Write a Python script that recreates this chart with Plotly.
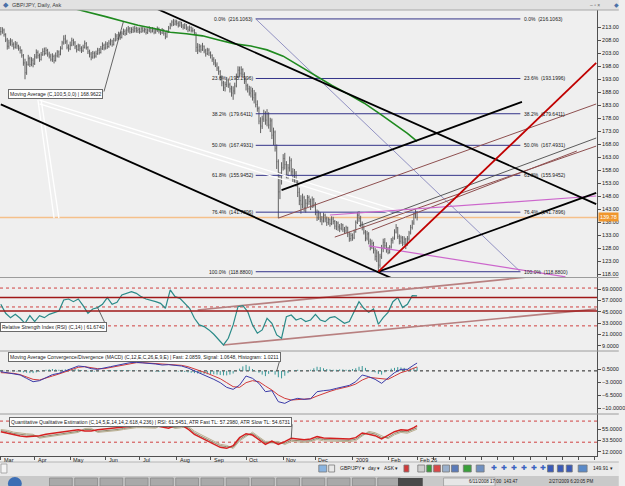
import pandas as pd
import plotly.graph_objects as go

# ============================ DATA ============================
first_bar = "2008-03-03"          # first daily bar (GBP/JPY, Ask)

closes = [
    # Mar 2008
    211.2, 211.8, 210.1, 208.0, 205.6, 206.9, 207.6, 206.3, 205.2, 206.4, 205.7, 204.8, 204.0, 202.1, 199.2, 195.4, 198.6, 200.8, 198.6, 200.2, 198.9,
    # Apr
    201.5, 203.2, 202.0, 200.5, 202.3, 203.6, 202.8, 204.0, 202.6, 201.8, 200.6, 201.7, 200.1, 201.9, 203.4, 202.5, 204.8, 206.9, 208.4, 207.3, 205.2, 204.6,
    # May
    206.0, 207.8, 206.9, 205.4, 204.3, 205.7, 204.8, 203.9, 205.2, 206.6, 205.1, 203.5, 202.6, 201.4, 202.9, 201.8, 202.7, 204.1, 203.2, 204.6, 205.9, 204.9,
    # Jun
    206.4, 205.5, 206.8, 207.6, 206.2, 207.9, 209.5, 208.6, 210.2, 209.0, 210.6, 211.3, 210.4, 211.8, 212.3, 211.2, 212.0, 211.5, 212.4, 211.6, 212.1,
    # Jul
    211.2, 212.3, 211.6, 212.0, 210.9, 211.8, 212.5, 211.4, 212.2, 211.0, 211.7, 212.4, 211.3, 210.8, 211.9, 210.6, 209.2, 211.0, 212.6, 213.8, 214.9, 214.1, 215.0,
    # Aug
    214.4, 213.7, 214.6, 213.4, 212.9, 213.8, 212.6, 211.9, 212.8, 211.7, 211.6, 210.8, 205.2, 204.1, 205.4, 204.2, 205.6, 203.8, 202.7, 204.1, 203.0,
    # Sep
    202.1, 200.6, 199.2, 198.4, 197.2, 195.8, 193.6, 191.5, 189.6, 190.9, 192.6, 190.8, 189.2, 187.6, 188.4, 190.3, 193.8, 196.4, 195.2, 196.6, 194.8, 192.2,
    # Oct
    190.4, 189.2, 187.6, 188.4, 185.8, 186.9, 183.2, 181.6, 176.8, 174.9, 177.6, 179.8, 177.2, 179.6, 175.3, 176.9, 171.4, 172.6, 166.4, 161.2, 149.6, 154.3, 158.9,
    # Nov
    162.4, 160.1, 156.2, 158.8, 161.6, 157.3, 154.6, 156.8, 153.2, 149.4, 146.2, 144.8, 147.3, 143.6, 145.2, 147.4, 145.9, 144.1, 146.6, 144.7,
    # Dec
    141.8, 139.6, 141.2, 139.1, 138.4, 140.6, 139.2, 137.8, 138.9, 137.4, 139.1, 138.2, 136.4, 137.6, 136.1, 135.6, 136.9, 135.2, 134.6, 135.8, 133.4, 131.6, 132.8,
    # Jan 2009
    131.9, 134.2, 137.8, 140.6, 139.4, 137.2, 135.9, 134.1, 131.8, 133.4, 130.6, 128.4, 129.8, 127.2, 124.8, 126.1, 121.4, 124.6, 127.8, 130.2, 128.9, 127.4,
    # Feb
    126.2, 128.4, 130.9, 131.6, 134.1, 135.8, 132.4, 130.6, 131.9, 130.2, 131.4, 129.8, 131.5, 133.8, 135.9, 137.6, 140.8, 141.9, 139.8,
]

highs = [
    213.0, 212.9, 212.4, 210.6, 208.8, 208.1, 208.7, 208.3, 207.1, 207.6, 207.3, 206.2, 205.6, 204.4, 202.6, 200.8, 199.8, 202.3, 201.6, 201.4, 201.0,
    202.6, 204.4, 204.0, 202.8, 203.4, 204.8, 205.1, 205.2, 204.6, 203.5, 202.7, 202.9, 202.4, 203.2, 204.1, 204.0, 205.6, 207.7, 209.8, 210.0, 208.1, 206.3,
    207.4, 208.9, 208.5, 207.6, 206.1, 206.6, 206.4, 205.6, 206.2, 207.8, 207.2, 205.6, 204.3, 203.4, 203.8, 203.6, 203.9, 205.0, 204.9, 205.7, 207.1, 206.6,
    207.5, 207.2, 207.9, 208.5, 208.1, 208.8, 210.6, 210.3, 211.2, 211.0, 211.4, 212.4, 212.1, 212.9, 213.4, 213.0, 212.9, 213.2, 213.5, 213.1, 212.9,
    212.8, 213.1, 213.0, 212.8, 212.6, 212.5, 213.3, 212.9, 213.0, 212.7, 212.4, 213.2, 212.8, 212.0, 212.6, 212.2, 211.0, 211.8, 213.4, 214.6, 215.6, 216.1, 215.9,
    215.8, 215.2, 215.4, 215.0, 214.2, 214.5, 214.1, 213.3, 213.6, 213.2, 212.8, 212.2, 210.9, 206.8, 206.5, 206.2, 206.9, 205.9, 204.6, 205.0, 204.8,
    203.6, 202.5, 201.4, 200.6, 199.4, 197.9, 196.4, 194.4, 192.3, 192.0, 193.8, 193.2, 191.6, 190.4, 190.2, 191.6, 195.1, 197.9, 197.8, 197.9, 197.1, 195.6,
    193.1, 191.2, 190.4, 190.1, 189.6, 188.8, 187.9, 184.8, 182.4, 178.3, 178.9, 181.2, 180.6, 181.4, 180.2, 178.1, 177.8, 174.3, 173.2, 167.8, 162.1, 157.2, 161.0,
    164.1, 164.6, 161.4, 160.3, 163.2, 162.5, 158.7, 158.4, 157.6, 154.1, 151.2, 148.3, 148.9, 148.1, 146.8, 148.4, 148.2, 147.0, 147.8, 147.2,
    145.6, 142.8, 142.4, 141.8, 140.3, 141.6, 141.2, 140.1, 139.8, 139.4, 140.2, 140.0, 138.8, 138.4, 138.2, 137.2, 137.6, 137.3, 136.1, 136.6, 136.2, 134.3, 133.9,
    133.6, 135.1, 138.6, 141.9, 142.2, 140.4, 138.2, 136.7, 134.9, 134.6, 134.1, 131.6, 131.2, 130.4, 128.1, 127.4, 126.8, 125.8, 129.2, 131.6, 131.8, 130.2,
    128.4, 129.1, 131.8, 132.4, 135.2, 137.2, 136.1, 133.2, 132.8, 132.6, 132.5, 131.9, 132.6, 134.6, 136.9, 138.7, 141.6, 142.8, 142.2,
]

lows = [
    209.8, 210.4, 209.3, 207.2, 204.3, 204.6, 205.8, 205.4, 204.3, 204.7, 204.6, 203.9, 202.8, 201.2, 198.1, 192.9, 194.6, 198.1, 197.6, 197.9, 197.5,
    198.4, 200.8, 200.9, 199.6, 200.1, 201.9, 202.0, 202.4, 201.6, 200.9, 199.8, 199.6, 199.0, 199.7, 201.3, 201.2, 202.1, 204.3, 206.2, 206.5, 204.4, 203.5,
    204.1, 205.6, 205.8, 204.5, 203.2, 203.8, 203.6, 203.0, 203.4, 204.7, 204.3, 202.6, 201.3, 200.2, 200.8, 200.9, 201.2, 202.3, 202.4, 202.8, 204.2, 204.0,
    204.3, 204.6, 205.0, 205.9, 205.4, 205.9, 207.4, 207.7, 208.1, 208.1, 208.6, 209.9, 209.6, 209.9, 210.8, 210.4, 210.6, 210.7, 210.9, 210.8, 210.7,
    210.4, 210.7, 210.9, 210.8, 210.1, 210.3, 211.0, 210.6, 210.9, 210.2, 210.4, 211.1, 210.5, 209.9, 210.3, 209.7, 208.3, 208.9, 210.7, 212.1, 213.2, 213.4, 213.6,
    213.5, 212.8, 213.1, 212.6, 212.0, 212.2, 211.8, 211.0, 211.3, 210.9, 210.9, 209.9, 203.4, 202.6, 203.3, 203.1, 203.8, 202.9, 201.6, 202.2, 201.9,
    200.9, 199.6, 198.3, 197.6, 196.1, 194.6, 192.4, 190.2, 188.4, 188.2, 189.9, 189.6, 187.8, 186.2, 185.0, 187.1, 189.8, 193.4, 193.6, 194.2, 193.5, 191.1,
    188.6, 187.8, 186.6, 185.9, 184.7, 183.6, 182.1, 180.4, 175.6, 172.2, 173.8, 176.5, 175.4, 174.8, 173.9, 172.6, 169.9, 167.6, 165.1, 158.4, 139.5, 146.8, 152.4,
    157.8, 158.2, 154.8, 154.6, 157.4, 155.9, 153.1, 152.8, 151.6, 147.6, 144.5, 141.2, 143.2, 142.0, 141.6, 143.8, 144.6, 142.6, 143.4, 143.6,
    140.6, 138.4, 138.8, 137.9, 136.8, 137.8, 137.9, 136.5, 136.9, 136.2, 136.8, 137.1, 135.2, 134.9, 134.6, 134.1, 134.8, 134.2, 133.4, 133.7, 132.2, 130.4, 130.6,
    130.8, 131.4, 133.9, 137.2, 138.1, 136.1, 134.8, 133.2, 130.6, 130.9, 129.4, 127.1, 127.6, 125.9, 123.2, 122.6, 118.9, 120.4, 123.8, 126.4, 127.6, 126.2,
    125.6, 125.9, 127.8, 129.7, 131.2, 133.6, 131.5, 129.4, 129.6, 128.7, 129.1, 127.6, 128.9, 130.8, 133.2, 135.1, 136.9, 139.4, 138.6,
]

# Moving Average (C,100) sampled at bar positions
ma_pos = [47, 55, 65, 75, 85, 95, 105, 115, 125, 135, 145, 155, 165, 175, 185, 195, 205, 215, 225, 235, 245, 252, 258]
ma_vals = [219.8, 218.6, 217.0, 215.3, 213.7, 212.4, 211.0, 210.4, 209.6, 208.0, 206.5, 205.7, 204.2,
           201.8, 198.1, 194.2, 190.6, 187.3, 183.8, 179.6, 175.2, 172.1, 169.0]

# RSI(14), every 3rd bar
rsi_step = 3
rsi_vals = [52.8, 43.3, 38.7, 42.2, 38.0, 32.7, 40.8, 34.5, 40.8, 38.7, 42.2, 44.3, 45.7, 57.4, 58.4, 55.6,
            58.4, 51.4, 43.3, 47.9, 49.3, 52.8, 59.9, 52.8, 54.9, 62.7, 64.4, 66.2, 64.4, 60.9, 58.4, 57.4,
            55.6, 53.8, 48.6, 68.0, 60.9, 59.1, 53.8, 48.6, 38.0, 31.0, 29.2, 25.7, 21.1, 15.1, 9.8, 16.9,
            31.0, 50.3, 51.4, 45.1, 31.0, 22.2, 25.7, 38.0, 32.7, 20.4, 16.9, 39.8, 41.5, 36.2, 38.0, 34.5,
            36.2, 42.2, 36.2, 34.5, 38.7, 39.8, 36.2, 32.7, 34.5, 45.1, 55.6, 48.6, 44.3, 47.9, 31.7, 38.7,
            44.3, 55.6, 59.9, 49.3, 52.8, 62.0, 61.7]

# MACD histogram, every 2nd bar
hist_step = 2
macd_hist = [0.2, 0.1, 0.0, -0.1, -0.1, -0.2, -0.3, -0.4, -0.5, -0.6,
             -0.6, -0.4, -0.2, 0.1, 0.3, 0.4, 0.5, 0.4, 0.3, 0.3,
             0.4, 0.5, 0.5, 0.5, 0.4, 0.2, 0.0, -0.2, -0.3, -0.2,
             -0.1, 0.0, 0.1, 0.2, 0.2, 0.2, 0.2, 0.2, 0.2, 0.2,
             0.2, 0.1, 0.1, 0.0, 0.0, -0.1, -0.1, -0.1, -0.2, -0.3,
             -0.2, -0.1, 0.0, 0.0, -0.1, -0.2, -0.2, -0.3, -0.4, -0.5,
             -0.6, -0.7, -0.7, -0.8, -0.9, -0.9, -0.9, -1.0, -1.1, -1.2,
             -1.2, -1.0, -0.7, -0.1, 0.6, 1.2, 1.6, 1.2, 0.5, -0.2,
             -0.5, -1.0, -1.4, -0.8, -0.3, -1.0, -1.7, -2.0, -1.3, -0.6,
             0.0, 0.2, 0.3, 0.1, 0.0, 0.1, 0.3, 0.7, 1.1, 1.0,
             0.7, 0.5, 0.4, 0.3, 0.3, 0.4, 0.4, 0.3, 0.3, 0.5,
             0.7, 1.1, 1.3, 0.8, 0.2, -0.2, -0.4, -0.8, -1.0, -0.4,
             0.2, 0.6, 0.8, 1.0, 0.9, 0.8, 0.5, 0.6, 0.8, 1.0]

# MACD lines and QQE, every 4th bar plus the last bar
line_step = 4
macd_fast = [-0.21, -0.48, -0.66, -1.10, -2.00, -2.89, -2.62, -1.73, -1.00, -0.66, 0.05, 0.68, 1.30, 1.12,
             0.59, 0.41, 0.68, 1.12, 1.48, 1.84, 2.19, 2.28, 2.19, 2.02, 1.84, 1.57, 1.66, 1.48, 1.30, 0.77,
             0.05, -0.66, -1.55, -2.26, -3.15, -4.40, -4.94, -3.78, -1.37, -2.00, -3.33, -5.56, -5.29, -8.23,
             -8.68, -7.79, -7.34, -7.61, -7.43, -5.56, -5.29, -5.11, -4.67, -4.22, -3.87, -2.89, -1.10, -1.55,
             -2.26, -3.33, -2.00, -0.48, 0.41, 0.41, 1.57, 2.09]
macd_signal = [-0.48, -0.48, -0.66, -1.00, -1.55, -2.26, -2.44, -2.00, -1.37, -0.84, -0.30, 0.23, 0.95, 1.12,
               0.86, 0.59, 0.59, 0.95, 1.30, 1.66, 2.02, 2.19, 2.19, 2.10, 2.02, 1.84, 1.66, 1.57, 1.48, 1.12,
               0.59, 0.05, -0.66, -1.37, -2.09, -3.15, -4.22, -4.40, -3.15, -2.62, -2.89, -4.05, -5.11, -6.45,
               -7.34, -7.79, -7.61, -7.61, -7.43, -6.72, -6.00, -5.47, -4.94, -4.58, -4.13, -3.51, -2.44, -1.73,
               -1.91, -2.26, -2.26, -1.37, -0.48, 0.05, 0.77, 1.06]
qqe_rsi = [49.9, 47.4, 43.6, 41.8, 40.5, 41.1, 42.4, 44.9, 46.8, 48.0, 49.9, 52.4, 53.7, 51.2, 51.2, 53.7,
           55.0, 56.3, 57.5, 59.4, 61.3, 62.6, 62.6, 62.0, 61.3, 58.8, 56.3, 61.3, 62.6, 55.0, 44.9, 38.6,
           32.3, 26.0, 20.3, 18.4, 23.4, 38.6, 46.1, 43.6, 34.2, 26.0, 32.3, 26.0, 31.0, 37.3, 36.1, 34.8,
           36.1, 40.5, 37.9, 37.3, 37.3, 36.7, 36.1, 38.6, 47.4, 44.9, 42.4, 36.1, 42.4, 49.9, 53.7, 52.4,
           57.5, 61.5]
qqe_fast = [52, 50, 46.5, 44.5, 43.5, 43, 39.5, 41.5, 43.5, 45, 46.5, 49, 50.5, 54, 54, 50.5, 51.5, 53, 54, 56,
            58, 59.5, 59.5, 59, 58.5, 61.5, 59, 58, 59.5, 58, 48, 41.5, 35.5, 29, 23.5, 21.5, 20.5, 35, 43, 46.5,
            37.5, 29, 29, 29, 28, 34, 33, 32, 33, 37.5, 35, 34.5, 34.5, 34, 33.5, 35.5, 44, 48, 45.5, 39,
            39, 46.5, 50.5, 49.5, 54.5, 57.3]
qqe_slow = [54, 52.5, 49, 47, 46, 45, 37.5, 39.5, 41.5, 43, 44.5, 47, 48.5, 56, 56.5, 48.5, 49.5, 51, 52, 54,
            56, 57.5, 57.5, 57, 56.5, 63.5, 61.5, 56, 57.5, 60.5, 51, 44.5, 38, 31.5, 26, 24, 18, 32.5, 40.5, 49,
            40, 31.5, 31.5, 31.5, 25.5, 31.5, 30.5, 29.5, 31, 35, 32.5, 32, 32, 31.5, 31, 33, 41.5, 50.5, 48, 41.5,
            36.5, 44, 48.5, 47, 52, 54.7]

# Fibonacci retracement
fib_pcts = ["0.0%", "23.6%", "38.2%", "50.0%", "61.8%", "76.4%", "100.0%"]
fib_vals = [216.1063, 193.1996, 179.6411, 167.4931, 155.9452, 141.7896, 118.8800]
fib_from, fib_to = "2008-10-09", "2009-05-27"

last_price = 139.78

# Drawn trend lines: ((date, value), (date, value))
black_lines = [
    (("2008-07-15", 220.2), ("2009-07-31", 144.9)),
    (("2008-03-03", 183.26), ("2009-02-04", 116.47)),
    (("2009-01-23", 118.88), ("2009-07-31", 149.2)),
    (("2008-10-31", 150.3), ("2009-05-28", 184.2)),
]
red_lines = [(("2009-01-23", 118.88), ("2009-07-31", 199.2))]
fib_diag = [(("2008-10-09", 216.1063), ("2009-05-27", 118.88))]
brown_lines = [
    (("2008-10-29", 139.5), ("2009-07-31", 183.4)),
    (("2008-12-17", 132.2), ("2009-07-31", 167.2)),
    (("2009-01-19", 134.9), ("2009-07-15", 165.3)),
]
gray_lines = [(("2009-01-07", 136.5), ("2009-07-31", 170.3))]
magenta_lines = [
    (("2008-12-12", 140.7), ("2009-07-31", 148.0)),
    (("2009-01-15", 128.8), ("2009-07-06", 116.9)),
]
white_lines = [
    (("2008-04-04", 184.9), ("2009-02-17", 141.5)),
    (("2008-04-04", 183.4), ("2009-02-17", 139.6)),
    (("2008-04-03", 185.0), ("2008-04-17", 139.5)),
    (("2008-04-07", 185.0), ("2008-04-22", 139.5)),
]
rsi_trend_lines = [
    (("2008-08-20", 46.8), ("2009-06-08", 82.2)),
    (("2008-09-11", 9.7), ("2009-07-31", 47.7)),
]
rsi_solid_levels = [60.0, 45.7]
rsi_dotted_levels = [70, 50, 30]
qqe_dotted_levels = [70, 30]

price_ticks = list(range(118, 214, 5))
rsi_ticks = [9, 21, 33, 45, 57, 69]
macd_ticks = [0.5, -3, -6.5, -10]
qqe_ticks = [12, 33.5, 55]

month_ticks = ["2008-03-03", "2008-04-01", "2008-05-01", "2008-06-02", "2008-07-01", "2008-08-01",
               "2008-09-01", "2008-10-01", "2008-11-03", "2008-12-01", "2009-01-01", "2009-02-02", "2009-02-26"]
month_labels = ["Mar", "Apr", "May", "Jun", "Jul", "Aug", "Sep", "Oct", "Nov", "Dec", "2009", "Feb", "Feb 26"]

ma_label = "Moving Average (C,100,5,0,0) | 168.9622"
rsi_label = "Relative Strength Index (RSI) (C,14) | 61.6740"
macd_label = "Moving Average Convergence/Divergence (MACD) (C,12,E,C,26,E,9,E) | Fast: 2.0859, Signal: 1.0648, Histogram: 1.0211"
qqe_label = "Quantitative Qualitative Estimation (C,14,5,E,14,14,2.618,4.236) | RSI: 61.5451, ATR Fast TL: 57.2980, ATR Slow TL: 54.6731"

# ============================ BUILD ============================
FONT = "Liberation Sans, Arial, sans-serif"
bar_dates = pd.bdate_range(first_bar, periods=len(closes))
ds = [d.strftime("%Y-%m-%d") for d in bar_dates]
opens = [closes[0]] + closes[:-1]
rsi_x = ds[::rsi_step]
hist_x = ds[::hist_step]
line_pos = list(range(0, len(ds) - 1, line_step))
if line_pos[-1] != len(ds) - 1:
    line_pos.append(len(ds) - 1)
line_x = [ds[i] for i in line_pos]
ma_x = [ds[i] for i in ma_pos]
future = pd.bdate_range(first_bar, periods=372)
future_ticks = [future[i].strftime("%Y-%m-%d") for i in range(268, 370, 10)]


def pxx(x):
    return x / 603.0


def pyy(y):
    return (456.0 - y) / 446.0


fig = go.Figure()


def seg(lines, color, width, yaxis="y", dash=None):
    for (a, b) in lines:
        fig.add_trace(go.Scatter(x=[a[0], b[0]], y=[a[1], b[1]], mode="lines", yaxis=yaxis,
                                 line=dict(color=color, width=width, dash=dash),
                                 hoverinfo="skip", showlegend=False))


# --- main panel
for v in fib_vals:
    fig.add_trace(go.Scatter(x=[fib_from, fib_to], y=[v, v], mode="lines",
                             line=dict(color="#34348a", width=1), hoverinfo="skip", showlegend=False))
seg(white_lines, "#ffffff", 1.3)
fig.add_trace(go.Ohlc(x=ds, open=opens, high=highs, low=lows, close=closes, tickwidth=0.3,
                      increasing=dict(line=dict(color="#626262", width=1)),
                      decreasing=dict(line=dict(color="#626262", width=1)),
                      hoverinfo="skip", showlegend=False))
seg(fib_diag, "#7a7ab8", 0.8)
seg(brown_lines, "#8e5050", 1)
seg(gray_lines, "#4a4a4a", 0.9)
seg(magenta_lines, "#cc66cc", 1.2)
fig.add_trace(go.Scatter(x=ma_x, y=ma_vals, mode="lines", line=dict(color="#1f8a1f", width=1.6),
                         hoverinfo="skip", showlegend=False))
seg(black_lines, "#000000", 1.8)
seg(red_lines, "#c00000", 1.8)

# --- RSI panel
seg(rsi_trend_lines, "#b88080", 1.6, yaxis="y2")
fig.add_trace(go.Scatter(x=rsi_x, y=rsi_vals, mode="lines", yaxis="y2",
                         line=dict(color="#2a8a88", width=1.2), hoverinfo="skip", showlegend=False))

# --- MACD panel
hx, hy = [], []
for d, v in zip(hist_x, macd_hist):
    hx += [d, d, None]
    hy += [0, v, None]
fig.add_trace(go.Scatter(x=hx, y=hy, mode="lines", yaxis="y3", line=dict(color="#3a9898", width=1),
                         hoverinfo="skip", showlegend=False))
fig.add_trace(go.Scatter(x=line_x, y=macd_signal, mode="lines", yaxis="y3",
                         line=dict(color="#d23a3a", width=1), hoverinfo="skip", showlegend=False))
fig.add_trace(go.Scatter(x=line_x, y=macd_fast, mode="lines", yaxis="y3",
                         line=dict(color="#3a3aa8", width=1), hoverinfo="skip", showlegend=False))

# --- QQE panel
fig.add_trace(go.Scatter(x=line_x, y=qqe_slow, mode="lines", yaxis="y4",
                         line=dict(color="#bcb092", width=1), hoverinfo="skip", showlegend=False))
fig.add_trace(go.Scatter(x=line_x, y=qqe_fast, mode="lines", yaxis="y4",
                         line=dict(color="#8e8a6e", width=1), hoverinfo="skip", showlegend=False))
fig.add_trace(go.Scatter(x=line_x, y=qqe_rsi, mode="lines", yaxis="y4",
                         line=dict(color="#d42020", width=1.5), hoverinfo="skip", showlegend=False))

# ============================ SHAPES ============================
shapes = []


def hline(yref, y, color, width, dash="solid", layer="below"):
    shapes.append(dict(type="line", xref="paper", x0=0, x1=1, yref=yref, y0=y, y1=y,
                       line=dict(color=color, width=width, dash=dash), layer=layer))


hline("y", last_price, "#f5c08a", 1.5)
for v in rsi_dotted_levels:
    hline("y2", v, "#d04040", 1, "dot")
for v in rsi_solid_levels:
    hline("y2", v, "#a01818", 1.6, layer="above")
hline("y3", 0, "#202020", 1, "dot")
for v in qqe_dotted_levels:
    hline("y4", v, "#d04040", 1, "dot")


def prect(x0, x1, y0, y1, fill, line=None):
    shapes.append(dict(type="rect", xref="paper", yref="paper", x0=pxx(x0), x1=pxx(x1),
                       y0=pyy(y1), y1=pyy(y0), fillcolor=fill,
                       line=dict(width=0 if line is None else 0.8, color=line or fill), layer="above"))


def pline(x0, x1, y0, y1, color, width=1):
    shapes.append(dict(type="line", xref="paper", yref="paper", x0=pxx(x0), x1=pxx(x1),
                       y0=pyy(y0), y1=pyy(y1), line=dict(color=color, width=width), layer="above"))


# title bar
prect(0, 625, 0, 10, "#e2e2e2")
pline(0, 625, 10, 10, "#a8a8a8")
# panel separators
for yy in (277.5, 351, 414):
    pline(0, 625, yy, yy, "#9c9c9c")
# toolbar + status strip
prect(0, 625, 462, 476, "#eaeaea")
pline(0, 625, 462, 462, "#b4b4b4")
prect(0, 625, 476, 486, "#c9c9c9")
prect(1, 7, 464, 473, "#f4f4f4", "#9a9a9a")
icons = [(322, 330, "#8ab4e0"), (332, 338, "#e8e8e8"), (408, 413, "#d03a3a"), (422, 429, "#d0d0d0"),
         (431, 436, "#3a9a3a"), (438, 445, "#d84848"), (447, 454, "#9ab0cc"), (456, 463, "#5a7ab8"),
         (468, 476, "#3aa03a"), (481, 489, "#7090c0"), (553, 559, "#3a5ab8"), (563, 569, "#3a5ab8"),
         (572, 578, "#3a5ab8"), (584, 593, "#5a8ac8")]
for x0, x1, c in icons:
    prect(x0, x1, 465, 472, c, "#7a7a7a")
# taskbar buttons
shapes.append(dict(type="circle", xref="paper", yref="paper", x0=pxx(8), x1=pxx(22), y0=pyy(490), y1=pyy(477),
                   fillcolor="#3c6eb4", line=dict(width=0), layer="above"))
for k in range(14):
    x0 = 50 + k * 25.5
    prect(x0, x0 + 23, 478, 486, "#a9a9a9", "#8a8a8a")
prect(402, 427, 478, 486, "#4a4a4a")
prect(448, 500, 478, 486, "#e6e6e6", "#9a9a9a")

# ============================ ANNOTATIONS ============================
ann = []
small = dict(family=FONT, size=5, color="#202020")

for t, lab in zip(month_ticks, month_labels):
    ann.append(dict(x=t, xref="x", y=pyy(460), yref="paper", text=lab, showarrow=False,
                    xanchor="left", yanchor="middle", xshift=1, font=dict(family=FONT, size=5.5, color="#202020")))

for p, v in zip(fib_pcts, fib_vals):
    txt = f"{p}\u00a0 ({v:.4f})"
    ann.append(dict(x=fib_from, xref="x", y=v, yref="y", text=txt, showarrow=False, xanchor="right",
                    yanchor="middle", xshift=-1, font=small))
    ann.append(dict(x=fib_to, xref="x", y=v, yref="y", text=txt, showarrow=False, xanchor="left",
                    yanchor="middle", xshift=2, font=small))


def boxed(label, x, y, yref, dx, dy):
    ann.append(dict(x=x, xref="x", y=y, yref=yref, text=" ", showarrow=True, ax=dx, ay=dy,
                    arrowhead=0, arrowwidth=0.8, arrowcolor="#404040", font=dict(size=1)))
    ann.append(dict(x=x, xref="x", y=y, yref=yref, text=label, showarrow=False, xanchor="right",
                    yanchor="middle", xshift=dx, yshift=-dy, bgcolor="#ffffff", bordercolor="#6a6a6a",
                    borderwidth=1, borderpad=1, font=small))


boxed(ma_label, ds[76], 215.1, "y", -20, 72)
boxed(rsi_label, ds[60], 49.3, "y2", 9, 19)
boxed(macd_label, ds[171], 0, "y3", 4, -14)
boxed(qqe_label, ds[180], 37.3, "y4", 1, -16)

# current price tag on the price axis
ann.append(dict(x=1, xref="paper", y=last_price, yref="y", text=f"{last_price:.2f}", showarrow=False,
                xanchor="left", yanchor="middle", xshift=1, bgcolor="#f0962c", borderpad=1,
                font=dict(family=FONT, size=5.5, color="#ffffff")))

# title bar texts
ann.append(dict(x=pxx(10), xref="paper", y=pyy(4.5), yref="paper", text="GBP/JPY, Daily, Ask", showarrow=False,
                xanchor="left", yanchor="middle", font=dict(family=FONT, size=5.5, color="#404040")))
ann.append(dict(x=pxx(1), xref="paper", y=pyy(4.5), yref="paper", text="\u25c6", showarrow=False,
                xanchor="left", yanchor="middle", font=dict(family=FONT, size=7, color="#4a70a8")))
ann.append(dict(x=pxx(594), xref="paper", y=pyy(4.5), yref="paper", text="\u2013 \u25ab \u00d7", showarrow=False,
                xanchor="left", yanchor="middle", font=dict(family=FONT, size=5, color="#606060")))
ann.append(dict(x=pxx(618), xref="paper", y=pyy(4.5), yref="paper", text="\u25c6", showarrow=False,
                xanchor="left", yanchor="middle", font=dict(family=FONT, size=6, color="#4a70a8")))

# toolbar texts
for xx, t in [(341, "GBP/JPY \u25be"), (370, "day \u25be"), (386, "ASK \u25be"), (597, "149.91 \u25be")]:
    ann.append(dict(x=pxx(xx), xref="paper", y=pyy(468.5), yref="paper", text=t, showarrow=False,
                    xanchor="left", yanchor="middle", font=dict(family=FONT, size=5, color="#202020")))
for xx in (494, 504, 514, 524, 534, 543):
    ann.append(dict(x=pxx(xx), xref="paper", y=pyy(468.5), yref="paper", text="\u271a", showarrow=False,
                    xanchor="left", yanchor="middle", font=dict(family="DejaVu Sans", size=7, color="#3a62c0")))
for xx, t in [(472, "6/11/2008 17:00  143.47"), (553, "2/27/2009 6:20:05 PM")]:
    ann.append(dict(x=pxx(xx), xref="paper", y=pyy(481.5), yref="paper", text=t, showarrow=False,
                    xanchor="left", yanchor="middle", font=dict(family=FONT, size=4.5, color="#202020")))

# ============================ LAYOUT ============================
yfont = dict(family=FONT, size=5.5, color="#202020")
ycommon = dict(side="right", anchor="x", showline=True, linecolor="#505050", linewidth=1, ticks="outside",
               ticklen=3, tickcolor="#505050", showgrid=False, zeroline=False, tickfont=yfont, fixedrange=True)

fig.update_layout(
    width=625, height=486, margin=dict(l=0, r=22, t=10, b=30),
    paper_bgcolor="#efefef", plot_bgcolor="#efefef", showlegend=False, hovermode=False,
    font=dict(family=FONT, size=5.5, color="#202020"),
    xaxis=dict(type="date", domain=[0, 1], anchor="y4", range=["2008-02-29 12:00", "2009-07-31 12:00"],
               rangebreaks=[dict(bounds=["sat", "mon"])], rangeslider=dict(visible=False),
               showgrid=False, zeroline=False, showline=True, linecolor="#505050", ticks="outside",
               ticklen=3, tickcolor="#505050", tickvals=month_ticks + future_ticks, showticklabels=False),
    yaxis=dict(domain=[pyy(277), 1], range=[116.85, 219.54], tickvals=price_ticks, tickformat=".2f", **ycommon),
    yaxis2=dict(domain=[pyy(351), pyy(277)], range=[3.4, 81.7], tickvals=rsi_ticks, tickformat=".4f", **ycommon),
    yaxis3=dict(domain=[pyy(414), pyy(351)], range=[-11.52, 5.31], tickvals=macd_ticks, tickformat=".4f", **ycommon),
    yaxis4=dict(domain=[0, pyy(414)], range=[3.86, 83.4], tickvals=qqe_ticks, tickformat=".4f", **ycommon),
    shapes=shapes, annotations=ann,
)

fig.write_html("out.html")
